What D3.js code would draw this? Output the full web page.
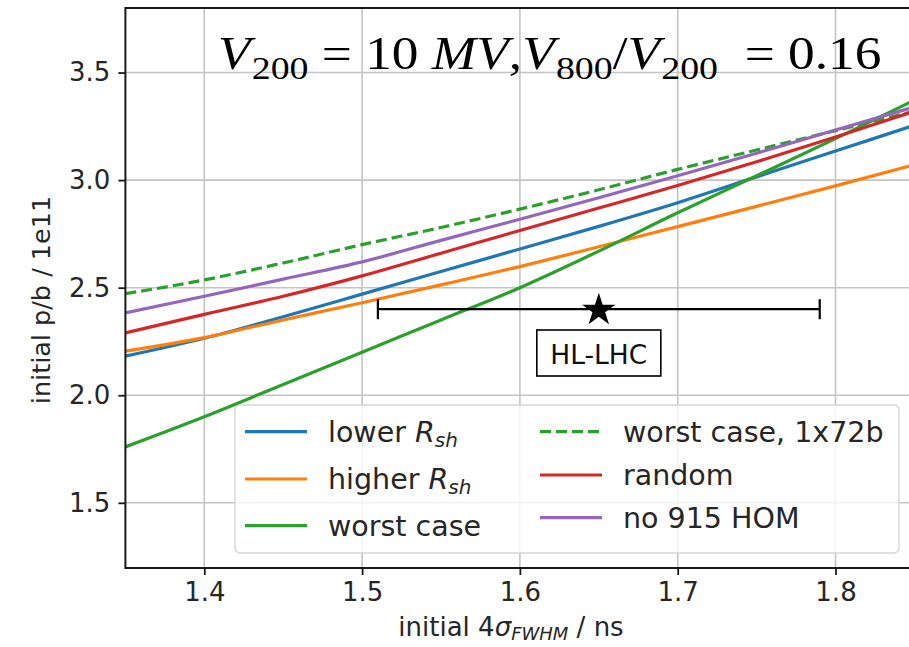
<!DOCTYPE html>
<html>
<head>
<meta charset="utf-8">
<script src="https://cdn.jsdelivr.net/npm/d3@7"></script>
<style>
  html, body { margin: 0; padding: 0; background: #fff; }
  svg { display: block; }
  text { font-family: "DejaVu Sans", sans-serif; fill: #262626; }
</style>
</head>
<body>
<svg id="chart" width="909" height="647"></svg>
<script>
// Initial bunch length (4σ FWHM, ns)
const bunchLength = [1.35, 1.40, 1.45, 1.50, 1.55, 1.60, 1.65, 1.70, 1.75, 1.80, 1.85];

// Initial intensity, protons per bunch / 1e11
const lowerRsh     = [2.182, 2.265, 2.365, 2.470, 2.575, 2.680, 2.785, 2.895, 3.015, 3.135, 3.255];
const higherRsh    = [2.205, 2.268, 2.350, 2.430, 2.513, 2.598, 2.690, 2.784, 2.878, 2.973, 3.072];
const worstCase    = [1.760, 1.900, 2.050, 2.200, 2.350, 2.500, 2.670, 2.848, 3.020, 3.193, 3.372];
const worstCase72b = [2.472, 2.536, 2.615, 2.700, 2.780, 2.865, 2.955, 3.050, 3.140, 3.230, 3.320];
const randomCase   = [2.290, 2.376, 2.460, 2.555, 2.660, 2.766, 2.870, 2.975, 3.085, 3.200, 3.320];
const no915HOM     = [2.383, 2.460, 2.540, 2.620, 2.720, 2.818, 2.918, 3.020, 3.125, 3.233, 3.340];

// HL-LHC reference point with its bunch-length range
const hlPoint = { x: 1.65, y: 2.40, xmin: 1.51, xmax: 1.79, label: "HL-LHC" };

const xTicks = [1.4, 1.5, 1.6, 1.7, 1.8];
const yTicks = [1.5, 2.0, 2.5, 3.0, 3.5];

const series = [
  { name: "lower",  sub: "sh", ital: "R", values: lowerRsh,     color: "#1f77b4", dash: null },
  { name: "higher", sub: "sh", ital: "R", values: higherRsh,    color: "#ff7f0e", dash: null },
  { name: "worst case",          values: worstCase,    color: "#2ca02c", dash: null },
  { name: "worst case, 1x72b",   values: worstCase72b, color: "#2ca02c", dash: "11,5" },
  { name: "random",              values: randomCase,   color: "#d62728", dash: null },
  { name: "no 915 HOM",          values: no915HOM,     color: "#9467bd", dash: null }
];

const svg = d3.select("#chart");
const plot = { left: 125.4, top: 8, right: 914.4, bottom: 568 };

const x = d3.scaleLinear().domain([1.35, 1.85]).range([plot.left, plot.right]);
const y = d3.scaleLinear().domain([1.197, 3.80]).range([plot.bottom, plot.top]);

svg.append("defs").append("clipPath").attr("id", "clip")
  .append("rect")
  .attr("x", plot.left).attr("y", plot.top)
  .attr("width", plot.right - plot.left).attr("height", plot.bottom - plot.top);

// Grid
const grid = svg.append("g");
grid.selectAll(".gx").data(xTicks).join("line")
  .attr("x1", d => x(d)).attr("x2", d => x(d))
  .attr("y1", plot.top).attr("y2", plot.bottom)
  .attr("stroke", "#c4c4c4").attr("stroke-width", 1.6);
grid.selectAll(".gy").data(yTicks).join("line")
  .attr("x1", plot.left).attr("x2", plot.right)
  .attr("y1", d => y(d)).attr("y2", d => y(d))
  .attr("stroke", "#c4c4c4").attr("stroke-width", 1.6);

// Annotation text: V200 = 10 MV, V800/V200 = 0.16
const annParts = [
  { t: "V", it: true }, { t: "200", sub: true }, { t: " = 10 " }, { t: "MV", it: true },
  { t: "," }, { t: "V", it: true }, { t: "800", sub: true }, { t: "/" }, { t: "V", it: true },
  { t: "200", sub: true }, { t: "  = 0.16" }
];
const annSize = 45.5;
const annG = svg.append("g");
const ann = annG.append("text")
  .attr("x", 0).attr("y", 0)
  .attr("xml:space", "preserve")
  .style("font-family", "'Liberation Serif', 'DejaVu Serif', serif")
  .style("font-size", annSize + "px")
  .style("fill", "#000");
let down = false;
annParts.forEach(p => {
  const ts = ann.append("tspan").text(p.t);
  if (p.it) ts.style("font-style", "italic");
  if (p.sub) {
    ts.style("font-size", (annSize * 0.71) + "px").attr("dx", 1);
    if (!down) { ts.attr("dy", 10); down = true; }
  } else if (down) {
    ts.attr("dy", -10); down = false;
  }
});
const annW = ann.node().getComputedTextLength();
annG.attr("transform", `translate(218,69) scale(${660 / annW},1)`);

// Lines
const line = d3.line()
  .x((d, i) => x(bunchLength[i]))
  .y(d => y(d))
  .curve(d3.curveMonotoneX);

const lines = svg.append("g").attr("clip-path", "url(#clip)");
series.forEach(s => {
  lines.append("path")
    .datum(s.values)
    .attr("d", line)
    .attr("fill", "none")
    .attr("stroke", s.color)
    .attr("stroke-width", 3.2)
    .attr("stroke-dasharray", s.dash);
});

// HL-LHC error bar and star
const eb = svg.append("g").attr("stroke", "#000").attr("stroke-width", 2.2);
eb.append("line").attr("x1", x(hlPoint.xmin)).attr("x2", x(hlPoint.xmax))
  .attr("y1", y(hlPoint.y)).attr("y2", y(hlPoint.y));
[hlPoint.xmin, hlPoint.xmax].forEach(v => {
  eb.append("line").attr("x1", x(v)).attr("x2", x(v))
    .attr("y1", y(hlPoint.y) - 10).attr("y2", y(hlPoint.y) + 10);
});
svg.append("path")
  .attr("d", d3.symbol(d3.symbolStar, 340)())
  .attr("transform", `translate(${x(hlPoint.x)},${y(hlPoint.y) + 1})`)
  .attr("fill", "#000");

const boxCx = x(hlPoint.x), boxCy = 353;
svg.append("rect")
  .attr("x", boxCx - 62).attr("y", boxCy - 23)
  .attr("width", 124).attr("height", 46)
  .attr("fill", "#fff").attr("stroke", "#000").attr("stroke-width", 1.6);
svg.append("text")
  .attr("x", boxCx).attr("y", boxCy + 1)
  .attr("text-anchor", "middle").attr("dominant-baseline", "central")
  .style("font-size", "26.5px").style("fill", "#111")
  .text(hlPoint.label);

// Spines
const spines = svg.append("g").attr("stroke", "#1a1a1a").attr("stroke-width", 2);
spines.append("line").attr("x1", plot.left).attr("x2", plot.left).attr("y1", plot.top - 1).attr("y2", plot.bottom + 1);
spines.append("line").attr("x1", plot.left).attr("x2", plot.right).attr("y1", plot.bottom).attr("y2", plot.bottom);
spines.append("line").attr("x1", plot.left).attr("x2", plot.right).attr("y1", plot.top).attr("y2", plot.top);

// Axes
const xAxis = d3.axisBottom(x).tickValues(xTicks).tickSize(7).tickPadding(8).tickFormat(d3.format(".1f"));
const yAxis = d3.axisLeft(y).tickValues(yTicks).tickSize(7).tickPadding(8).tickFormat(d3.format(".1f"));
const gx = svg.append("g").attr("transform", `translate(0,${plot.bottom})`).call(xAxis);
const gy = svg.append("g").attr("transform", `translate(${plot.left},0)`).call(yAxis);
[gx, gy].forEach(g => {
  g.select(".domain").remove();
  g.selectAll(".tick line").attr("stroke", "#1a1a1a").attr("stroke-width", 1.8);
  g.selectAll(".tick text").style("font-size", "26px").style("font-family", "'DejaVu Sans', sans-serif").attr("fill", "#262626");
});

// Axis labels
const xl = svg.append("text")
  .attr("x", 511).attr("y", 636)
  .attr("text-anchor", "middle")
  .style("font-size", "26px");
xl.append("tspan").text("initial 4");
xl.append("tspan").text("σ").style("font-style", "italic");
xl.append("tspan").text("FWHM").style("font-style", "italic").style("font-size", "18px").attr("dy", 4);
xl.append("tspan").text(" / ns").attr("dy", -4);

svg.append("text")
  .attr("transform", "translate(50,300) rotate(-90)")
  .attr("text-anchor", "middle")
  .style("font-size", "25.5px")
  .text("initial p/b / 1e11");

// Legend
const lg = svg.append("g");
lg.append("rect")
  .attr("x", 235).attr("y", 405).attr("width", 664).attr("height", 148)
  .attr("rx", 5)
  .attr("fill", "#fff").attr("fill-opacity", 0.8)
  .attr("stroke", "#d6d6d6").attr("stroke-width", 1.4);

const legendRows = [
  { s: series[0], hx: 245, ty: 431.7 },
  { s: series[1], hx: 245, ty: 479 },
  { s: series[2], hx: 245, ty: 525.7 },
  { s: series[3], hx: 540, ty: 431.7 },
  { s: series[4], hx: 540, ty: 475 },
  { s: series[5], hx: 540, ty: 517.7 }
];
legendRows.forEach(r => {
  lg.append("line")
    .attr("x1", r.hx).attr("x2", r.hx + 62)
    .attr("y1", r.ty).attr("y2", r.ty)
    .attr("stroke", r.s.color).attr("stroke-width", 3.2)
    .attr("stroke-dasharray", r.s.dash);
  const t = lg.append("text")
    .attr("x", r.hx + 83).attr("y", r.ty + 10)
    .style("font-size", "28.5px");
  t.append("tspan").text(r.s.name + (r.s.ital ? " " : ""));
  if (r.s.ital) {
    t.append("tspan").text(r.s.ital).style("font-style", "italic");
    t.append("tspan").text(r.s.sub).style("font-style", "italic").style("font-size", "20px").attr("dy", 5);
  }
});
</script>
</body>
</html>
